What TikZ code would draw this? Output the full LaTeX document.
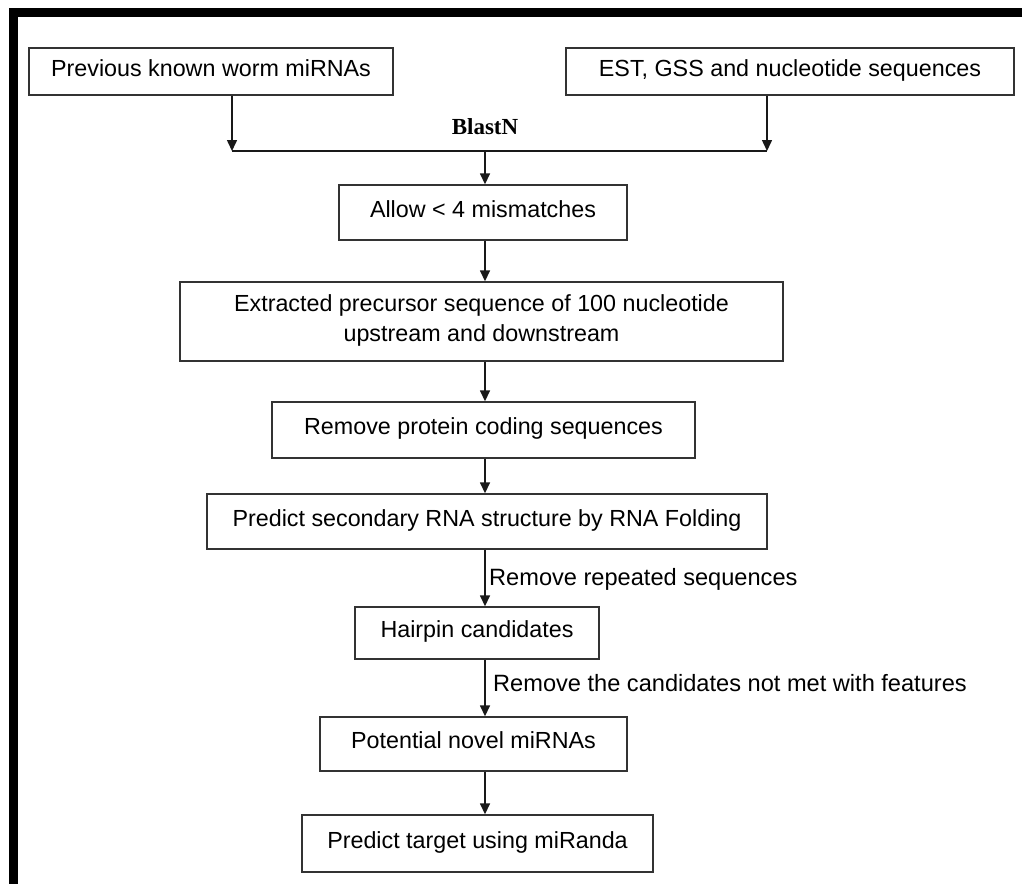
\documentclass[tikz,border=0pt]{standalone}
\usepackage{fontspec}
\setmainfont{Liberation Sans}
\newfontfamily\timesbf{Liberation Serif}
\usetikzlibrary{arrows.meta}
\begin{document}
\begin{tikzpicture}[x=1pt,y=-1pt,
  box/.style={draw=black!80,line width=1.4pt,inner sep=0pt,align=center,text depth=7pt,font=\fontsize{23.3}{30}\selectfont},
  arr/.style={draw=black!90,line width=1.5pt,-{Triangle[length=11pt,width=10pt]}},
  ln/.style={draw=black!90,line width=1.5pt},
  lbl/.style={anchor=west,inner sep=0pt,font=\fontsize{23.6}{26}\selectfont}]
\useasboundingbox (0,0) rectangle (1022,884);
\fill[white] (0,0) rectangle (1022,884);
% frame
\fill[black] (9,8) rectangle (1022,17);
\fill[black] (9,8) rectangle (18,884);
% boxes
\node[box,minimum width=364pt,minimum height=47pt] (b1) at (211,71.5) {Previous known worm miRNAs};
\node[box,minimum width=448pt,minimum height=47pt] (b2) at (790,71.5) {EST, GSS and nucleotide sequences};
\node[box,minimum width=288pt,minimum height=55pt] (b3) at (483,212.5) {Allow < 4 mismatches};
\node[box,minimum width=603pt,minimum height=79pt] (b4) at (481.5,321.5) {Extracted precursor sequence of 100 nucleotide\\upstream and downstream};
\node[box,minimum width=423pt,minimum height=56pt] (b5) at (483.5,430) {Remove protein coding sequences};
\node[box,minimum width=560pt,minimum height=55pt] (b6) at (487,521.5) {Predict secondary RNA structure by RNA Folding};
\node[box,minimum width=244pt,minimum height=52pt] (b7) at (477,633) {Hairpin candidates};
\node[box,minimum width=307pt,minimum height=54pt] (b8) at (473.5,744) {Potential novel miRNAs};
\node[box,minimum width=351pt,minimum height=57pt] (b9) at (477.5,843.5) {Predict target using miRanda};
% merge
\coordinate (ax) at (485,0);
\coordinate (jl) at (232,151);
\coordinate (jr) at (767,151);
\coordinate (jm) at (485,151);
\draw[arr] (b1.south -| jl) -- (jl);
\draw[arr] (b2.south -| jr) -- (jr);
\draw[ln] (jl) -- (jr);
\node[font=\timesbf\bfseries\fontsize{23}{26}\selectfont,inner sep=0pt] (blast) at (485,127) {BlastN};
\draw[arr] (jm) -- (b3.north -| ax);
\draw[arr] (b3.south -| ax) -- (b4.north -| ax);
\draw[arr] (b4.south -| ax) -- (b5.north -| ax);
\draw[arr] (b5.south -| ax) -- (b6.north -| ax);
\draw[arr] (b6.south -| ax) -- (b7.north -| ax);
\draw[arr] (b7.south -| ax) -- (b8.north -| ax);
\draw[arr] (b8.south -| ax) -- (b9.north -| ax);
\node[lbl] (l1) at (489,579) {Remove repeated sequences};
\node[lbl] (l2) at (493,683) {Remove the candidates not met with features};
\end{tikzpicture}
\end{document}
